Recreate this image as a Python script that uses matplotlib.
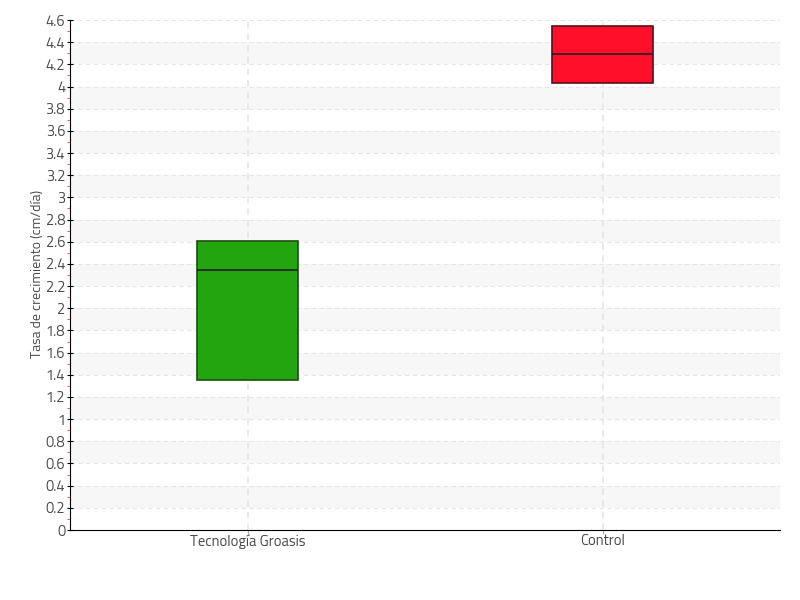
import matplotlib
matplotlib.use("Agg")
import matplotlib.pyplot as plt
from matplotlib import font_manager
import numpy as np

categories = ["Tecnología Groasis", "Control"]
q1 = [1.353, 4.032]
median = [2.345, 4.293]
q3 = [2.607, 4.546]
fill_colors = ["#22a50f", "#ff0f2a"]
edge_colors = ["#1d4d14", "#5a0f18"]

names = {f.name for f in font_manager.fontManager.ttflist}
cands = ['Titillium Web', 'Titillium', 'Roboto Condensed', 'Liberation Sans Narrow']
fam = [c for c in cands if c in names]
plt.rcParams['font.family'] = fam + ['DejaVu Sans']

fig = plt.figure(figsize=(8, 6), dpi=100)
ax = fig.add_axes([70/800, 70/600, 710/800, 510/600])

# alternating bands
yt = np.round(np.arange(0, 4.61, 0.2), 1)
for i in range(1, len(yt) - 1, 2):
    ax.axhspan(yt[i], yt[i + 1], color="#f7f7f7", zorder=0, lw=0)

stats = []
for c, a, m, b in zip(categories, q1, median, q3):
    stats.append(dict(label=c, q1=a, med=m, q3=b, whislo=a, whishi=b, fliers=[]))
bp = ax.bxp(stats, positions=[1, 2], widths=0.282, patch_artist=True,
            showcaps=False, showfliers=False,
            medianprops=dict(color="#222222", lw=1.2),
            whiskerprops=dict(lw=0))
for patch, fc, ec in zip(bp['boxes'], fill_colors, edge_colors):
    patch.set_facecolor(fc)
    patch.set_edgecolor(ec)
    patch.set_linewidth(1.2)
    patch.set_zorder(3)
for med in bp['medians']:
    med.set_zorder(4)

ax.set_xlim(0.5, 2.5)
ax.set_ylim(0, 4.6)
ax.set_yticks(yt)
ax.set_yticklabels([f"{v:g}" for v in yt])
ax.set_yticks(np.round(np.arange(0.1, 4.6, 0.2), 1), minor=True)
ax.set_xticks([1, 2])
ax.set_xticklabels(categories)

ax.grid(axis='y', which='major', color="#e6e6e6", ls=(0, (4, 3)), lw=0.8, zorder=1)
ax.grid(axis='x', which='major', color="#e6e6e6", ls=(0, (4, 3)), lw=1.2, zorder=1)
ax.set_axisbelow(True)

for s in ['top', 'right']:
    ax.spines[s].set_visible(False)
ax.spines['left'].set_color('black')
ax.spines['bottom'].set_color('black')

ax.tick_params(axis='y', which='major', direction='inout', length=5, color='black',
               labelsize=10.5, labelcolor='#4a4a4a', pad=1)
ax.tick_params(axis='y', which='minor', direction='out', length=2.5, color='#ff3333')
ax.tick_params(axis='x', which='major', direction='out', length=3, color='#aaaaaa',
               labelsize=10.5, labelcolor='#4a4a4a', pad=0)

ax.set_ylabel("Tasa de crecimiento (cm/día)", fontsize=10, color='#4a4a4a')
ax.yaxis.set_label_coords(-0.037, 0.502)

fig.savefig("out.png", dpi=100)
